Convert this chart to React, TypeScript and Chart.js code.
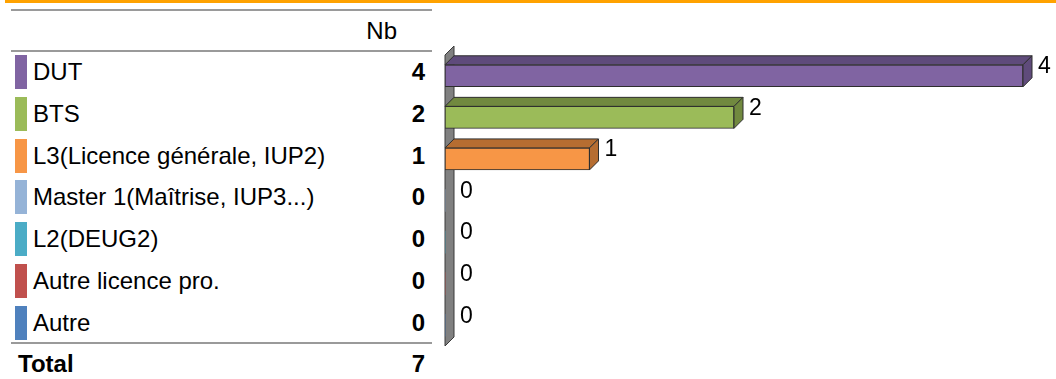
import React, { useEffect, useRef } from 'react';
import { Chart, registerables } from 'chart.js';

Chart.register(...registerables);

const headerLabel = 'Nb';
const categories = [
  'DUT',
  'BTS',
  'L3(Licence générale, IUP2)',
  'Master 1(Maîtrise, IUP3...)',
  'L2(DEUG2)',
  'Autre licence pro.',
  'Autre',
];
const counts = [4, 2, 1, 0, 0, 0, 0];
const totalLabel = 'Total';
const totalValue = 7;
const frontColors = ['#8064A2', '#9BBB59', '#F79646', '#95B3D7', '#4BACC6', '#C0504D', '#4F81BD'];
const shadeColors = ['#5F4B7B', '#71893F', '#B66D31', '#6F86A2', '#378196', '#8F3B39', '#3A6190'];
const xMin = 0;
const xMax = 4;

const DEPTH = 9;
const FONT = '"Liberation Sans", Arial, Helvetica, sans-serif';
const TABLE_FONT_SIZE = 24;

const threeDPlugin = {
  id: 'threeD',
  beforeDatasetsDraw(chart: any) {
    const { ctx, chartArea: a } = chart;
    ctx.save();
    ctx.beginPath();
    ctx.moveTo(a.left, a.top);
    ctx.lineTo(a.left + DEPTH, a.top - DEPTH);
    ctx.lineTo(a.left + DEPTH, a.bottom - DEPTH);
    ctx.lineTo(a.left, a.bottom);
    ctx.closePath();
    ctx.fillStyle = '#808080';
    ctx.fill();
    ctx.strokeStyle = '#3a3a3a';
    ctx.lineWidth = 1;
    ctx.stroke();
    ctx.restore();
  },
  afterDatasetsDraw(chart: any) {
    const { ctx } = chart;
    const meta = chart.getDatasetMeta(0);
    ctx.save();
    meta.data.forEach((bar: any, i: number) => {
      const p = bar.getProps(['x', 'y', 'base', 'height'], true);
      const top = p.y - p.height / 2;
      const bottom = p.y + p.height / 2;
      if (counts[i] > 0) {
        ctx.strokeStyle = '#2e2e2e';
        ctx.lineWidth = 1;
        ctx.fillStyle = shadeColors[i];
        ctx.beginPath();
        ctx.moveTo(p.base, top);
        ctx.lineTo(p.base + DEPTH, top - DEPTH);
        ctx.lineTo(p.x + DEPTH, top - DEPTH);
        ctx.lineTo(p.x, top);
        ctx.closePath();
        ctx.fill();
        ctx.stroke();
        ctx.beginPath();
        ctx.moveTo(p.x, top);
        ctx.lineTo(p.x + DEPTH, top - DEPTH);
        ctx.lineTo(p.x + DEPTH, bottom - DEPTH);
        ctx.lineTo(p.x, bottom);
        ctx.closePath();
        ctx.fill();
        ctx.stroke();
      }
      ctx.fillStyle = '#000';
      ctx.font = `23px ${FONT}`;
      ctx.textAlign = 'left';
      ctx.textBaseline = 'middle';
      ctx.fillText(String(counts[i]), p.x + DEPTH + 6, p.y - 9);
    });
    ctx.restore();
  },
};

const ROW0 = 72;
const ROWSTEP = 41.83;

export default function App() {
  const canvasRef = useRef<HTMLCanvasElement | null>(null);

  useEffect(() => {
    if (!canvasRef.current) return;
    const chart = new Chart(canvasRef.current, {
      type: 'bar',
      data: {
        labels: categories,
        datasets: [
          {
            data: counts,
            backgroundColor: frontColors,
            borderColor: '#2e2e2e',
            borderWidth: (c: any) => (c.raw > 0 ? 1 : 0),
            borderSkipped: false,
            barThickness: 22,
          },
        ],
      },
      options: {
        indexAxis: 'y',
        responsive: false,
        maintainAspectRatio: false,
        animation: false,
        layout: { padding: { left: 15, right: 33, top: 55, bottom: 33 } },
        scales: {
          x: { display: false, min: xMin, max: xMax },
          y: { display: false },
        },
        plugins: {
          legend: { display: false },
          tooltip: { enabled: false },
        },
      },
      plugins: [threeDPlugin],
    } as any);
    return () => chart.destroy();
  }, []);

  const line = (top: number) => (
    <div style={{ position: 'absolute', left: 11, width: 421, top, height: 2, background: '#9a9a9a' }} />
  );

  return (
    <div
      style={{
        position: 'absolute',
        left: 0,
        top: 0,
        width: 1056,
        height: 379,
        overflow: 'hidden',
        background: '#fff',
        fontFamily: FONT,
        color: '#000',
      }}
    >
      <div style={{ position: 'absolute', left: 5, right: 0, top: 0, height: 3, background: '#FFA200' }} />
      {line(9)}
      <div
        style={{
          position: 'absolute',
          left: 300,
          width: 97,
          top: 16,
          height: 30,
          lineHeight: '30px',
          fontSize: TABLE_FONT_SIZE,
          textAlign: 'right',
        }}
      >
        {headerLabel}
      </div>
      {line(50)}
      {categories.map((c, i) => {
        const cy = ROW0 + ROWSTEP * i;
        return (
          <React.Fragment key={c}>
            <div
              style={{ position: 'absolute', left: 15, width: 12, top: cy - 17, height: 34, background: frontColors[i] }}
            />
            <div
              style={{
                position: 'absolute',
                left: 33,
                top: cy - 15,
                height: 30,
                lineHeight: '30px',
                fontSize: TABLE_FONT_SIZE,
                whiteSpace: 'nowrap',
              }}
            >
              {c}
            </div>
            <div
              style={{
                position: 'absolute',
                left: 325,
                width: 100,
                top: cy - 15,
                height: 30,
                lineHeight: '30px',
                fontSize: TABLE_FONT_SIZE,
                fontWeight: 'bold',
                textAlign: 'right',
              }}
            >
              {counts[i]}
            </div>
          </React.Fragment>
        );
      })}
      {line(342)}
      <div
        style={{
          position: 'absolute',
          left: 18,
          top: 349,
          height: 30,
          lineHeight: '30px',
          fontSize: TABLE_FONT_SIZE,
          fontWeight: 'bold',
        }}
      >
        {totalLabel}
      </div>
      <div
        style={{
          position: 'absolute',
          left: 325,
          width: 100,
          top: 349,
          height: 30,
          lineHeight: '30px',
          fontSize: TABLE_FONT_SIZE,
          fontWeight: 'bold',
          textAlign: 'right',
        }}
      >
        {totalValue}
      </div>
      <canvas
        ref={canvasRef}
        width={626}
        height={379}
        style={{ position: 'absolute', left: 430, top: 0, width: 626, height: 379 }}
      />
    </div>
  );
}
